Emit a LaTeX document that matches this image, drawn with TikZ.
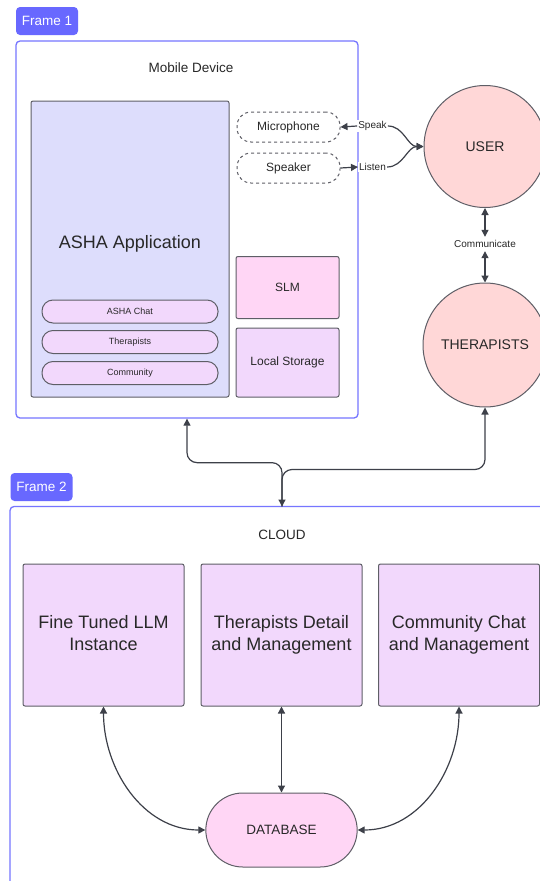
\documentclass[tikz,border=0pt]{standalone}
\usepackage{fontspec}
\setmainfont{Liberation Sans}
\usetikzlibrary{arrows.meta, shapes.misc}

\definecolor{framebd}{RGB}{118,118,255}
\definecolor{framefill}{RGB}{104,104,255}
\definecolor{boxbd}{RGB}{94,94,102}
\definecolor{linec}{RGB}{61,64,73}
\definecolor{txtc}{RGB}{40,40,40}
\definecolor{ashafill}{RGB}{221,221,252}
\definecolor{pillfill}{RGB}{242,216,252}
\definecolor{slmfill}{RGB}{255,214,245}
\definecolor{userfill}{RGB}{255,215,215}

\newcommand{\fsz}[1]{\fontsize{#1}{#1}\selectfont}

\begin{document}
\begin{tikzpicture}[x=1pt, y=1pt]
     % Define styles
     \tikzstyle{frame} = [draw=framebd, line width=1.3pt, rounded corners=4pt, inner sep=0pt]
     \tikzstyle{framelabel} = [fill=framefill, rounded corners=4pt, text=white, font=\fsz{13.5}, minimum width=62, minimum height=28, inner sep=0pt]
     \tikzstyle{box} = [draw=boxbd, line width=1pt, rounded corners=2pt, inner sep=0pt, align=center, text=txtc]
     \tikzstyle{pill} = [box, fill=pillfill, rounded corners=11pt, minimum width=176, minimum height=23, font=\fsz{9}]
     \tikzstyle{device} = [box, dashed, rounded corners=14pt, minimum width=103, minimum height=30, font=\fsz{12}]
     \tikzstyle{person} = [circle, draw=boxbd, line width=1pt, fill=userfill, inner sep=0pt, text=txtc, font=\fsz{14}]
     \tikzstyle{cloudbox} = [box, fill=pillfill, minimum width=161, minimum height=142, font=\fontsize{18}{22}\selectfont]
     \tikzstyle{tag} = [fill=white, inner sep=1pt, text=txtc, font=\fsz{10}]
     \tikzstyle{link} = [draw=linec, line width=1.2pt, >={Triangle[length=7pt,width=7pt]}]

     \clip (0,0) rectangle (540,-881);
     \fill[white] (0,0) rectangle (540,-881);

     % Frame 1
     \node[framelabel] (frameone) at (47,-21) {Frame 1};
     \node[frame, minimum width=342, minimum height=377] (mobile) at (187,-229.5) {};
     \node[text=txtc, font=\fsz{13.5}] (mobiletitle) at (191,-68) {Mobile Device};

     % ASHA application
     \node[box, fill=ashafill, minimum width=198, minimum height=296] (asha) at (130,-249) {};
     \node[text=txtc, font=\fsz{18}] (ashatitle) at (130,-244) {ASHA Application};
     \node[pill] (pillchat) at (130,-311.5) {ASHA Chat};
     \node[pill] (pilltherapists) at (130,-342) {Therapists};
     \node[pill] (pillcommunity) at (130,-373) {Community};

     % Devices and local parts
     \node[device] (mic) at (288.5,-127) {Microphone};
     \node[device] (speaker) at (288.5,-168) {Speaker};
     \node[box, fill=slmfill, minimum width=103, minimum height=62, font=\fsz{12}] (slm) at (287.5,-287.5) {SLM};
     \node[box, fill=pillfill, minimum width=103, minimum height=69, font=\fsz{12}] (storage) at (287.5,-362.5) {Local Storage};

     % People
     \node[person, minimum size=122] (user) at (485,-146.5) {USER};
     \node[person, minimum size=124] (therapists) at (485,-345) {THERAPISTS};
     \node[text=txtc, font=\fsz{10}] (communicate) at (485,-244) {Communicate};

     % Frame 2
     \node[framelabel] (frametwo) at (41.5,-487) {Frame 2};
     \node[frame, minimum width=590, minimum height=443] (cloud) at (305,-728) {};
     \node[text=txtc, font=\fsz{13.5}] (cloudtitle) at (282,-535) {CLOUD};
     \coordinate (cloudin) at (282,-506.5);

     \node[cloudbox] (llm) at (103.5,-635) {Fine Tuned LLM\strut\\Instance\strut};
     \node[cloudbox] (tdm) at (281.5,-635) {Therapists Detail\strut\\and Management\strut};
     \node[cloudbox] (ccm) at (459,-635) {Community Chat\strut\\and Management\strut};
     \node[rounded rectangle, draw=boxbd, line width=1pt, fill=slmfill, minimum width=158, minimum height=74, text=txtc, font=\fsz{13.5}] (db) at (281.5,-830) {DATABASE};

     % Speak / Listen
     \node[tag] (speak) at (372.5,-126) {Speak};
     \node[tag] (listen) at (372.5,-167) {Listen};
     \draw[link, ->] (speak.west) -- (mic.east);
     \draw[link, ->] (speak.east) to[out=0, in=180] (user.west);
     \draw[link, ->] (speaker.east) -- (listen.west);
     \draw[link, ->] (listen.east) to[out=0, in=180] (user.west);

     % Communicate
     \draw[link, <->] (user.south) -- (communicate.north);
     \draw[link, <->] (communicate.south) -- (therapists.north);

     % Mobile and therapists to cloud
     \draw[link, <->, rounded corners=10pt] (mobile.south) -- ++(0,-44) -| (cloudin);
     \draw[link, <-, rounded corners=10pt] (therapists.south) -- ++(0,-62) -| (cloudin);

     % Cloud services to database
     \draw[link, <->] (tdm.south) -- (db.north);
     \draw[link, <->] (llm.south) to[out=-90, in=180] (db.west);
     \draw[link, <->] (ccm.south) to[out=-90, in=0] (db.east);
\end{tikzpicture}
\end{document}
